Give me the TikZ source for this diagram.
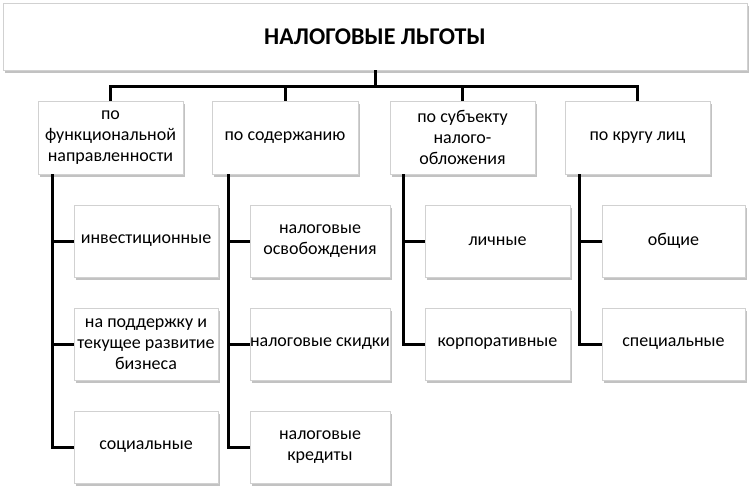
\documentclass[tikz,border=0pt]{standalone}
\usepackage{fontspec}
\setmainfont{Carlito}
\usetikzlibrary{shadows}
\begin{document}
\begin{tikzpicture}[x=1pt,y=-1pt,
  box/.style={draw=black!18, line width=0.8pt, fill=white, inner sep=0pt, align=center,
    font=\fontsize{18}{21}\selectfont,
    drop shadow={shadow xshift=1.5pt, shadow yshift=-2.5pt, opacity=0.4, fill=black!60}},
  conn/.style={line width=3pt, black}]
\useasboundingbox (0,0) rectangle (750,485);
\node[box, minimum width=744pt, minimum height=67pt, font=\bfseries\fontsize{24}{28}\selectfont] (top) at (375,36.5) {НАЛОГОВЫЕ ЛЬГОТЫ};
% level 1
\node[box, minimum width=145pt, minimum height=73pt] (a) at (110.5,137.5) {по\\функциональной\\направленности};
\node[box, minimum width=146pt, minimum height=73pt] (b) at (285,137.5) {по содержанию};
\node[box, minimum width=145pt, minimum height=73pt] (c) at (462.5,137.5) {по субъекту\\налого-\\обложения};
\node[box, minimum width=145pt, minimum height=73pt] (d) at (637.5,137.5) {по кругу лиц};
% level 2
\node[box, minimum width=144pt, minimum height=72pt] (a1) at (146,241) {инвестиционные};
\node[box, minimum width=144pt, minimum height=72pt] (a2) at (146,344) {на поддержку и\\текущее развитие\\бизнеса};
\node[box, minimum width=144pt, minimum height=72pt] (a3) at (146,447) {социальные};
\node[box, minimum width=140pt, minimum height=72pt] (b1) at (320,241) {налоговые\\освобождения};
\node[box, minimum width=140pt, minimum height=72pt] (b2) at (320,344) {налоговые скидки};
\node[box, minimum width=140pt, minimum height=72pt] (b3) at (320,447) {налоговые\\кредиты};
\node[box, minimum width=145pt, minimum height=72pt] (c1) at (497.5,241) {личные};
\node[box, minimum width=145pt, minimum height=72pt] (c2) at (497.5,344) {корпоративные};
\node[box, minimum width=143pt, minimum height=72pt] (d1) at (673.5,241) {общие};
\node[box, minimum width=143pt, minimum height=72pt] (d2) at (673.5,344) {специальные};
% connectors
\coordinate (bar) at (375,86);
\draw[conn] (top.south) -- (bar);
\draw[conn] (a.north) -- (a.north |- bar) -- (d.north |- bar) -- (d.north);
\draw[conn] (b.north |- bar) -- (b.north);
\draw[conn] (c.north |- bar) -- (c.north);
\draw[conn] ([xshift=-58pt]a.south) |- (a3.west);
\draw[conn] ([xshift=-58pt]a.south |- a1.west) -- (a1.west);
\draw[conn] ([xshift=-58pt]a.south |- a2.west) -- (a2.west);
\draw[conn] ([xshift=-57pt]b.south) |- (b3.west);
\draw[conn] ([xshift=-57pt]b.south |- b1.west) -- (b1.west);
\draw[conn] ([xshift=-57pt]b.south |- b2.west) -- (b2.west);
\draw[conn] ([xshift=-59.5pt]c.south) |- (c2.west);
\draw[conn] ([xshift=-59.5pt]c.south |- c1.west) -- (c1.west);
\draw[conn] ([xshift=-58.5pt]d.south) |- (d2.west);
\draw[conn] ([xshift=-58.5pt]d.south |- d1.west) -- (d1.west);
\end{tikzpicture}
\end{document}
